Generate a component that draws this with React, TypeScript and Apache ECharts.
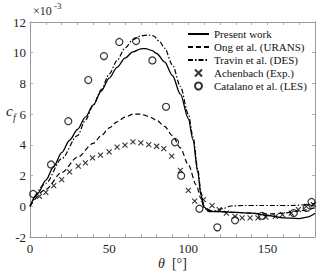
import React, { useEffect, useRef } from "react";
import * as echarts from "echarts";

const FONT = "'Liberation Serif', 'DejaVu Serif', serif";

// Present work (solid)
const presentTheta = [0, 5, 10, 15, 20, 25, 30, 35, 40, 45, 50, 55, 60, 65, 70, 73, 77, 80, 85, 90, 95, 100, 103, 106, 108, 110, 113, 120, 130, 140, 150, 160, 170, 175, 180];
const presentCf = [0, 0.85, 1.7, 2.6, 3.5, 4.3, 5.0, 5.8, 6.6, 7.5, 8.35, 9.05, 9.65, 10.05, 10.25, 10.27, 10.15, 9.95, 9.4, 8.5, 7.3, 5.7, 4.3, 2.2, 0.7, -0.05, -0.35, -0.35, -0.4, -0.45, -0.6, -0.75, -0.8, -0.7, -0.45];

// Ong et al. (URANS) (dashed)
const ongTheta = [0, 10, 20, 30, 40, 45, 50, 55, 60, 65, 70, 75, 80, 85, 90, 95, 100, 105, 108, 110, 115, 120, 130, 140, 150, 160, 170, 180];
const ongCf = [0, 1.1, 2.2, 3.2, 4.1, 4.6, 5.1, 5.5, 5.8, 6.0, 6.0, 5.85, 5.6, 5.2, 4.6, 3.8, 2.7, 1.4, 0.5, -0.1, -0.3, -0.35, -0.4, -0.45, -0.5, -0.45, -0.3, -0.1];

// Travin et al. (DES) (dash-dot)
const travinTheta = [0, 10, 20, 30, 35, 40, 45, 50, 55, 60, 65, 70, 75, 78, 82, 85, 90, 95, 100, 103, 106, 108, 110, 112, 117, 122, 127, 135, 145, 155, 165, 175, 180];
const travinCf = [0, 1.5, 3.1, 4.6, 5.6, 6.6, 7.6, 8.6, 9.5, 10.3, 10.85, 11.1, 11.15, 11.1, 10.7, 10.3, 9.2, 7.8, 6.0, 4.5, 2.4, 0.9, 0.0, -0.3, -0.3, -0.15, 0.02, 0.05, 0.05, 0.05, 0.05, 0.1, 0.2];

// Achenbach (Exp.) crosses
const achenbachTheta = [6, 10, 15, 20, 25, 30.5, 35, 39.5, 44.5, 50, 55, 60, 65, 70, 75, 80, 84.5, 89.5, 95, 100, 104, 109.5, 115, 119.5, 124, 129.5, 134, 139, 144, 149, 155, 159.5, 165, 169.5, 174.5, 179];
const achenbachCf = [0.65, 0.91, 1.35, 1.74, 2.24, 2.61, 2.83, 3.15, 3.33, 3.54, 3.85, 3.98, 4.19, 4.13, 4.02, 3.91, 3.76, 3.26, 2.34, 1.03, 0.33, 0.44, 0.05, -0.22, -0.44, -0.65, -0.76, -0.76, -0.76, -0.7, -0.65, -0.54, -0.44, -0.22, 0, 0.11];

// Catalano et al. (LES) circles
const catalanoTheta = [2, 13.3, 24.2, 36.8, 46.7, 56.4, 67, 77.3, 85.9, 91.6, 95.5, 107, 118.3, 129.5, 146.6, 166.6, 174.7, 177.8];
const catalanoCf = [0.8, 2.72, 5.54, 8.22, 9.78, 10.7, 10.76, 9.5, 6.48, 4.17, 1.99, -0.16, -1.37, -0.91, -0.62, -0.44, -0.11, 0.28];

const seriesNames = ["Present work", "Ong et al. (URANS)", "Travin et al. (DES)", "Achenbach (Exp.)", "Catalano et al. (LES)"];

const xMin = 0, xMax = 180, xInterval = 10, xLabelStep = 50;
const yMin = -2, yMax = 12, yInterval = 2;

const zip = (a: number[], b: number[]) => a.map((v, i) => [v, b[i]]);

const AX = "#9a9a9a";
const TXT = "#262626";

export default function App() {
  const ref = useRef<HTMLDivElement>(null);
  useEffect(() => {
    if (!ref.current) return;
    document.body.style.margin = "0";
    const chart = echarts.init(ref.current, undefined, { renderer: "svg" });
    const axisCommon = {
      type: "value" as const,
      axisLine: { show: true, onZero: false, lineStyle: { color: AX, width: 1 } },
      axisTick: { show: true, inside: true, length: 3, lineStyle: { color: AX, width: 0.8 } },
      splitLine: { show: false },
    };
    chart.setOption({
      animation: false,
      backgroundColor: "#fff",
      grid: { left: 30, right: 5, top: 22, bottom: 40 },
      xAxis: [
        {
          ...axisCommon,
          min: xMin, max: xMax, interval: xInterval, position: "bottom",
          axisLabel: {
            color: TXT, fontFamily: FONT, fontSize: 13, margin: 5,
            formatter: (v: number) => (v % xLabelStep === 0 ? String(v) : ""),
          },
        },
        {
          ...axisCommon,
          min: xMin, max: xMax, interval: xInterval, position: "top",
          axisLabel: { show: false },
        },
      ],
      yAxis: [
        {
          ...axisCommon,
          min: yMin, max: yMax, interval: yInterval, position: "left",
          axisLabel: { color: TXT, fontFamily: FONT, fontSize: 13, margin: 4 },
        },
        {
          ...axisCommon,
          min: yMin, max: yMax, interval: yInterval, position: "right",
          axisLabel: { show: false },
        },
      ],
      legend: {
        orient: "vertical",
        left: 182,
        top: 23,
        itemWidth: 21,
        itemHeight: 7,
        itemGap: 1,
        selectedMode: false,
        textStyle: { fontFamily: FONT, fontSize: 11, color: "#111", lineHeight: 12 },
        data: seriesNames,
      },
      series: [
        {
          name: seriesNames[0], type: "line", data: zip(presentTheta, presentCf),
          symbol: "none", smooth: 0.3, smoothMonotone: "x",
          lineStyle: { color: "#000", width: 1.3, type: "solid" }, itemStyle: { color: "transparent" }, z: 5,
        },
        {
          name: seriesNames[1], type: "line", data: zip(ongTheta, ongCf),
          symbol: "none", smooth: 0.3, smoothMonotone: "x",
          lineStyle: { color: "#000", width: 1.2, type: [5, 3] }, itemStyle: { color: "transparent" }, z: 4,
        },
        {
          name: seriesNames[2], type: "line", data: zip(travinTheta, travinCf),
          symbol: "none", smooth: 0.3, smoothMonotone: "x",
          lineStyle: { color: "#000", width: 1.2, type: [5, 2, 1.5, 2] }, itemStyle: { color: "transparent" }, z: 4,
        },
        {
          name: seriesNames[3], type: "scatter", data: zip(achenbachTheta, achenbachCf),
          symbol: "path://M0,0L10,10M10,0L0,10", symbolSize: 5,
          itemStyle: { color: "transparent", borderColor: "#000", borderWidth: 1.1 }, z: 3,
        },
        {
          name: seriesNames[4], type: "scatter", data: zip(catalanoTheta, catalanoCf),
          symbol: "circle", symbolSize: 7,
          itemStyle: { color: "transparent", borderColor: "#000", borderWidth: 1.2 }, z: 3,
        },
      ],
      graphic: [
        { type: "text", left: 33, top: 5, style: { text: "×10", fontFamily: FONT, fontSize: 12, fill: TXT } },
        { type: "text", left: 54, top: 1, style: { text: "-3", fontFamily: FONT, fontSize: 9, fill: TXT } },
        { type: "text", left: 6, top: 103, style: { text: "c", fontFamily: FONT, fontStyle: "italic", fontSize: 15, fill: TXT } },
        { type: "text", left: 13, top: 112, style: { text: "f", fontFamily: FONT, fontStyle: "italic", fontSize: 10, fill: TXT } },
        {
          type: "text", left: 158, top: 256,
          style: {
            text: "{a|θ}  [°]", fontFamily: FONT, fontSize: 14, fill: TXT,
            rich: { a: { fontFamily: FONT, fontStyle: "italic", fontSize: 14, fill: TXT } },
          },
        },
      ],
    });
    return () => chart.dispose();
  }, []);
  return <div ref={ref} style={{ width: 320, height: 277 }} />;
}
